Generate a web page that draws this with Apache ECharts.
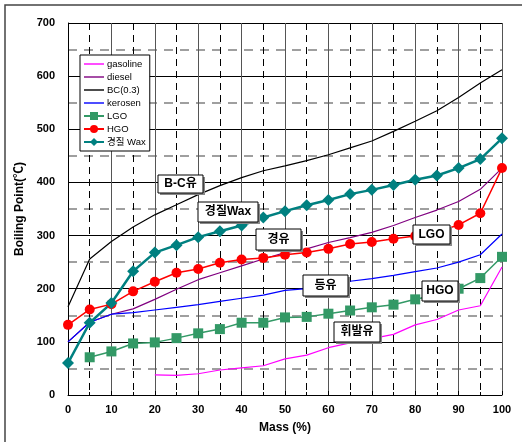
<!DOCTYPE html>
<html><head><meta charset="utf-8">
<script src="https://cdn.jsdelivr.net/npm/echarts@6/dist/echarts.min.js"></script>
<style>html,body{margin:0;padding:0;background:#fff}#c{width:522px;height:442px}</style>
</head><body><div id="c"></div>
<script>
const mass = [0,5,10,15,20,25,30,35,40,45,50,55,60,65,70,75,80,85,90,95,100];
const gasoline = [null,null,null,null,38,37,40,47,51,55,68,75,89,98,106,114,132,142,160,168,241];
const diesel   = [100,137,152,162,180,199,217,230,243,256,268,275,287,296,306,319,334,348,364,387,427];
const bc03     = [166,256,289,316,339,358,377,394,409,422,431,441,452,465,478,496,515,535,560,587,612];
const kerosen  = [100,137,152,155,160,165,170,176,182,188,197,200,206,214,219,225,232,239,250,264,303];
const lgo      = [null,71,82,97,99,107,116,124,136,136,146,147,153,159,165,170,180,188,200,220,260];
const hgo      = [132,161,171,195,213,230,237,249,255,258,264,268,275,284,288,294,299,307,320,342,427];
const wax      = [60,136,173,233,268,282,297,308,319,334,346,357,367,378,386,395,405,413,427,444,483];
const seriesNames = ['gasoline','diesel','BC(0.3)','kerosen','LGO','HGO','경질 Wax'];
const lineOnly = ['gasoline','diesel','BC(0.3)','kerosen'];
const annotations = [
  {text:'B-C유', x:158, y:175, w:45, h:18},
  {text:'경질Wax', x:198, y:202, w:60, h:20},
  {text:'경유', x:256, y:229, w:45, h:21},
  {text:'등유', x:303, y:275, w:45, h:21},
  {text:'휘발유', x:334, y:322, w:46, h:20},
  {text:'LGO', x:413, y:225, w:37, h:19},
  {text:'HGO', x:422, y:281, w:36, h:20}
];
const pairs = arr => mass.map((m,i)=>[m, arr[i]]);
const FONT = 'Liberation Sans, Arial, "Noto Sans CJK KR", sans-serif';

const chart = echarts.init(document.getElementById('c'), null, {renderer:'canvas'});
function lineSeries(name, arr, color, width) {
  return {name, type:'line', data:pairs(arr), symbol:'none', connectNulls:false,
    lineStyle:{color, width}, itemStyle:{color}, z:3};
}
function markSeries(name, arr, color, width, symbol, size) {
  return {name, type:'line', data:pairs(arr), symbol, symbolSize:size, showSymbol:true,
    lineStyle:{color, width}, itemStyle:{color}, z:4};
}
const graphics = [
  {type:'rect', shape:{x:5,y:5,width:540,height:460}, style:{fill:'none', stroke:'#444', lineWidth:1.5}, z:0, silent:true}
];
annotations.forEach(a=>{
  graphics.push({type:'rect', z:100, shape:{x:a.x+2,y:a.y+2,width:a.w,height:a.h}, style:{fill:'#888'}});
  graphics.push({type:'rect', z:101, shape:{x:a.x,y:a.y,width:a.w,height:a.h}, style:{fill:'#fff', stroke:'#000', lineWidth:1}});
  graphics.push({type:'text', z:102, x:a.x+a.w/2, y:a.y+a.h/2, style:{text:a.text, fill:'#000', font:'bold 12px "Liberation Sans", "Noto Sans CJK KR", sans-serif', align:'center', verticalAlign:'middle'}});
});
const LINE_ICON = 'path://M0,0 L20,0 L20,1.4 L0,1.4 Z';
chart.setOption({
  animation:false,
  backgroundColor:'#fff',
  grid:{left:68, right:20, top:23, bottom:47},
  legend:{
    data:seriesNames.map(n => lineOnly.includes(n) ? {name:n, icon:LINE_ICON} : {name:n}),
    orient:'vertical', left:80, top:55,
    backgroundColor:'#fff', borderColor:'#000', borderWidth:1, padding:[4,4,4,3],
    itemWidth:20, itemHeight:10, itemGap:3,
    textStyle:{fontSize:9.5, lineHeight:10, fontFamily:FONT, color:'#000', padding:[0,0,0,-2]},
    z:50
  },
  xAxis:{
    type:'value', min:0, max:100, interval:10,
    name:'Mass (%)', nameLocation:'middle', nameGap:27,
    nameTextStyle:{fontSize:12, fontWeight:'bold', fontFamily:FONT, color:'#000'},
    axisLine:{show:true, onZero:false, lineStyle:{color:'#000', width:1}},
    axisTick:{show:true, inside:true, length:4, lineStyle:{color:'#000'}},
    minorTick:{show:true, splitNumber:2, length:3, lineStyle:{color:'#000'}},
    axisLabel:{fontSize:11, fontWeight:'bold', fontFamily:FONT, color:'#000', margin:9},
    splitLine:{show:true, lineStyle:{color:'#555', width:1}},
    minorSplitLine:{show:true, lineStyle:{color:'#000', width:1, type:[7,5]}}
  },
  yAxis:{
    type:'value', min:0, max:700, interval:100,
    name:'Boiling Point(℃)', nameLocation:'middle', nameGap:38,
    nameTextStyle:{fontSize:12, fontWeight:'bold', fontFamily:FONT, color:'#000'},
    axisLine:{show:true, lineStyle:{color:'#000', width:1}},
    axisTick:{show:true, inside:true, length:4, lineStyle:{color:'#000'}},
    axisLabel:{fontSize:11, fontWeight:'bold', fontFamily:FONT, color:'#000', margin:13},
    splitLine:{show:true, lineStyle:{color:'#000', width:1}},
    minorTick:{show:false, splitNumber:2},
    minorSplitLine:{show:true, lineStyle:{color:'#808080', width:1.6, type:[9,7]}}
  },
  series:[
    lineSeries('gasoline', gasoline, '#FF00FF', 1.2),
    lineSeries('diesel', diesel, '#800080', 1.2),
    lineSeries('BC(0.3)', bc03, '#000000', 1.2),
    lineSeries('kerosen', kerosen, '#0000FF', 1.2),
    markSeries('LGO', lgo, '#339966', 1.5, 'rect', 10),
    markSeries('HGO', hgo, '#FF0000', 1.5, 'circle', 10),
    markSeries('경질 Wax', wax, '#008080', 2.5, 'diamond', 12)
  ],
  graphic:graphics
});
</script></body></html>
